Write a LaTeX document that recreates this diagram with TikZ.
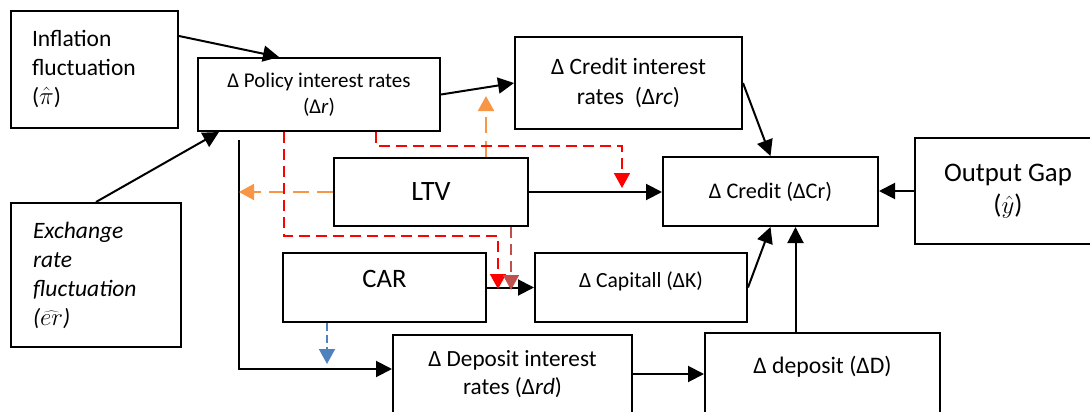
\documentclass[tikz,border=0pt]{standalone}
\usepackage{fontspec}
\setmainfont{Carlito}
\usetikzlibrary{arrows.meta,calc}
\definecolor{lorange}{HTML}{F79646}
\definecolor{lbrown}{HTML}{C0504D}
\definecolor{lblue}{HTML}{4F81BD}
\tikzset{
  box/.style={draw, line width=2pt, inner sep=0pt, align=center},
  arr/.style={line width=2pt, -{Triangle[length=16pt,width=16pt]}},
  redda/.style={draw=red, line width=1.8pt, dash pattern=on 11pt off 6pt, -{Triangle[length=15pt,width=16pt]}, red},
  brownda/.style={draw=lbrown, line width=1.8pt, dash pattern=on 11pt off 6pt, -{Triangle[length=15pt,width=16pt]}, lbrown},
  orangeda/.style={draw=lorange, line width=2pt, dash pattern=on 16pt off 8pt, -{Triangle[length=15pt,width=16pt]}, lorange},
  blueda/.style={draw=lblue, line width=1.8pt, dash pattern=on 8pt off 4pt, -{Triangle[length=15pt,width=16pt]}, lblue},
  midbase/.style={text height=#1, text depth=#1},
}
\begin{document}
\begin{tikzpicture}[x=1pt,y=-1pt]
\useasboundingbox (0,0) rectangle (1090,412);
\clip (0,0) rectangle (1090,412);
% boxes
\node[box, minimum width=167pt, minimum height=117pt, text width=125pt, align=left,
  font=\fontsize{23.5}{29}\selectfont] (infl) at (94.5,69.5)
  {Inflation\\fluctuation\\($\hat{\pi}$)};
\node[box, minimum width=170pt, minimum height=144pt, text width=126pt, align=left,
  font=\itshape\fontsize{23.5}{29}\selectfont] (exch) at (96,275)
  {Exchange\\rate\\fluctuation\\($\widehat{er}$)};
\node[box, minimum width=242pt, minimum height=73pt,
  font=\fontsize{21}{26}\selectfont] (pol) at (319,94.5)
  {Δ Policy interest rates\\(Δ\textit{r})};
\node[box, minimum width=227pt, minimum height=92pt,
  font=\fontsize{23.5}{30}\selectfont] (cri) at (628.5,83)
  {Δ Credit interest\\rates\ \ (Δ\textit{rc})};
\node[box, minimum width=194pt, minimum height=68pt,
  font=\fontsize{28}{34}\selectfont] (ltv) at (431,192) {LTV};
\node[box, minimum width=215pt, minimum height=69pt,
  font=\fontsize{22.3}{27}\selectfont] (cr) at (770.5,191.5) {Δ Credit (ΔCr)};
\node[box, minimum width=186pt, minimum height=106pt,
  font=\fontsize{26.8}{32.5}\selectfont] (out) at (1008,191)
  {Output Gap\\($\hat{y}$)};
\node[box, minimum width=203pt, minimum height=69pt, midbase=16pt,
  font=\fontsize{26.6}{32}\selectfont] (car) at (384.5,287.5) {CAR};
\node[box, minimum width=212pt, minimum height=69pt, midbase=15pt,
  font=\fontsize{21.6}{26}\selectfont] (cap) at (641,287.5) {Δ Capitall (ΔK)};
\node[box, minimum width=239pt, minimum height=78pt,
  font=\fontsize{23.2}{28}\selectfont] (dri) at (512.5,374)
  {Δ Deposit interest\\rates (Δ\textit{rd})};
\node[box, minimum width=235pt, minimum height=80pt, midbase=17pt,
  font=\fontsize{23.7}{29}\selectfont] (dep) at (822.5,373) {Δ deposit (ΔD)};
% black connectors
\draw[arr] ($(infl.north east)+(0,26)$) -- ($(pol.north west)+(82,0)$);
\draw[arr] (exch.north) -- ($(pol.south west)+(22,0)$);
\draw[arr] (pol.east) -- (cri.west);
\draw[arr] (cri.east) -- (cr.north);
\draw[arr] (ltv.east) -- (ltv.east -| cr.west);
\draw[arr] (out.west) -- (out.west -| cr.east);
\draw[arr] (cap.east) -- (cr.south);
\coordinate (dtop) at ($(cr.south)+(25,0)$);
\draw[arr] (dtop |- dep.north) -- (dtop);
\draw[arr] (dri.east) -- (dri.east -| dep.west);
\draw[arr] (car.east) -- (cap.west);
\coordinate (pv) at (239,140);
\draw[arr] (pv) |- ($(dri.west)+(0,-5)$);
% coloured dashed connectors
\draw[orangeda] (ltv.west) -- (ltv.west -| pv);
\draw[orangeda] ($(ltv.north west)+(153,0)$) -- ++(0,-61);
\coordinate (r1) at (622,146);
\coordinate (r1e) at (622,188);
\draw[redda] ($(pol.south west)+(179,0)$) |- (r1) -- (r1e);
\coordinate (r2) at (498,236);
\coordinate (r2e) at (498,289);
\draw[redda] ($(pol.south west)+(87,0)$) |- (r2) -- (r2e);
\draw[brownda] ($(ltv.south west)+(178,0)$) -- ++(0,63);
\draw[blueda] ($(car.south west)+(45,0)$) -- ++(0,41);
\end{tikzpicture}
\end{document}
